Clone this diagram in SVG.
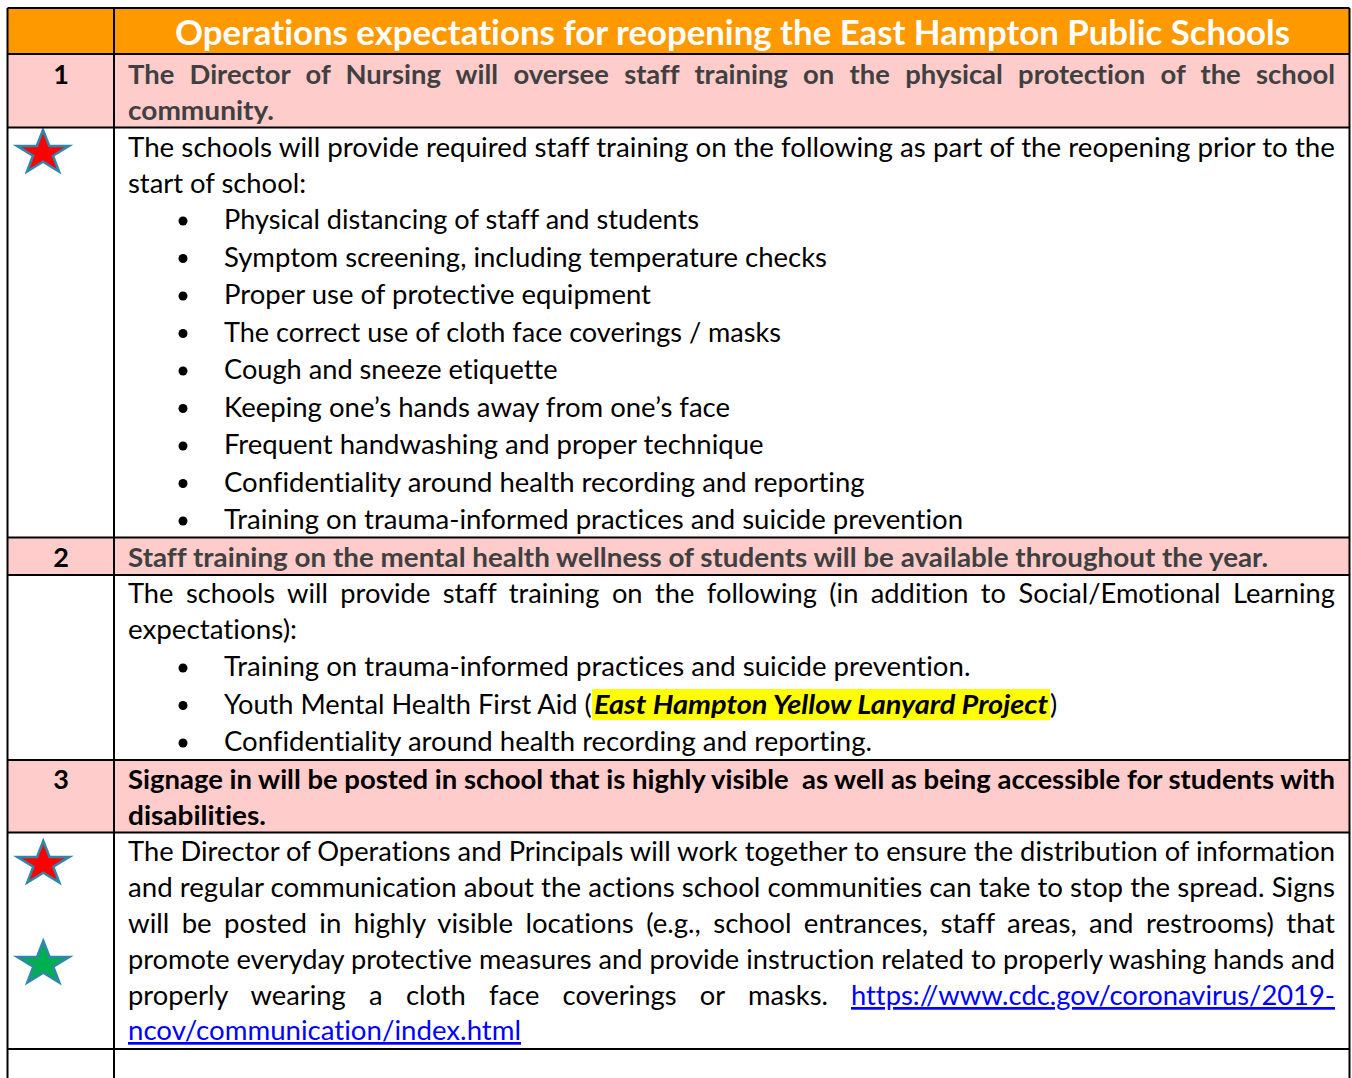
<svg xmlns="http://www.w3.org/2000/svg" xmlns:xlink="http://www.w3.org/1999/xlink" width="1352" height="1078" viewBox="0 0 1352 1078">
<style>
.t{font-family:Lato,"Open Sans","Liberation Sans",sans-serif;font-size:27px;fill:#000;font-variant-ligatures:none;font-feature-settings:"liga" 0,"clig" 0}
.b{font-weight:700}
.hd{fill:#404040}
.title{font-size:34.4px;font-weight:700;fill:#fff}
.link{fill:#0000FF;text-decoration:underline}
.grid{stroke:#000;stroke-width:2;fill:none}
.bul{fill:#000}
.orange{fill:#FF9900}
.pink{fill:#FFCCCC}
.star{stroke:#2F87AA;stroke-width:2.5;stroke-linejoin:miter}
</style>
<defs>
<path id="star" d="M0,-23 L6.25,-7.1 L26,-7.1 L10,2.8 L16,18.6 L0,8.8 L-16,18.6 L-10,2.8 L-26,-7.1 L-6.25,-7.1 Z"/>
</defs>
<rect width="1352" height="1078" fill="#fff"/>

<g id="title-row">
<rect class="orange" x="7.5" y="8" width="1342" height="46"/>
<text class="t title" x="732.5" y="45" text-anchor="middle" textLength="1115" lengthAdjust="spacingAndGlyphs">Operations expectations for reopening the East Hampton Public Schools</text>
</g>

<g id="row1-header">
<rect class="pink" x="7.5" y="54" width="1342" height="73.5"/>
<text class="t b" x="61" y="84" text-anchor="middle">1</text>
<text class="t b hd" x="128" y="84" word-spacing="8.5" textLength="1207" lengthAdjust="spacingAndGlyphs">The Director of Nursing will oversee staff training on the physical protection of the school</text>
<text class="t b hd" x="128" y="120" textLength="146" lengthAdjust="spacingAndGlyphs">community.</text>
</g>

<g id="row1-body">
<use href="#star" xlink:href="#star" class="star" fill="#FF0000" transform="translate(43,153)"/>
<text class="t" x="128" y="157" textLength="1207" lengthAdjust="spacingAndGlyphs">The schools will provide required staff training on the following as part of the reopening prior to the</text>
<text class="t" x="128" y="193" textLength="178" lengthAdjust="spacingAndGlyphs">start of school:</text>
<circle class="bul" cx="183" cy="221" r="4.5"/>
<text class="t" x="224" y="229" textLength="475" lengthAdjust="spacingAndGlyphs">Physical distancing of staff and students</text>
<circle class="bul" cx="183" cy="258.5" r="4.5"/>
<text class="t" x="224" y="266.5" textLength="603" lengthAdjust="spacingAndGlyphs">Symptom screening, including temperature checks</text>
<circle class="bul" cx="183" cy="296" r="4.5"/>
<text class="t" x="224" y="304" textLength="427" lengthAdjust="spacingAndGlyphs">Proper use of protective equipment</text>
<circle class="bul" cx="183" cy="333.5" r="4.5"/>
<text class="t" x="224" y="341.5" textLength="557" lengthAdjust="spacingAndGlyphs">The correct use of cloth face coverings / masks</text>
<circle class="bul" cx="183" cy="371" r="4.5"/>
<text class="t" x="224" y="379" textLength="333.5" lengthAdjust="spacingAndGlyphs">Cough and sneeze etiquette</text>
<circle class="bul" cx="183" cy="408.5" r="4.5"/>
<text class="t" x="224" y="416.5" textLength="506" lengthAdjust="spacingAndGlyphs">Keeping one’s hands away from one’s face</text>
<circle class="bul" cx="183" cy="446" r="4.5"/>
<text class="t" x="224" y="454" textLength="539.5" lengthAdjust="spacingAndGlyphs">Frequent handwashing and proper technique</text>
<circle class="bul" cx="183" cy="483.5" r="4.5"/>
<text class="t" x="224" y="491.5" textLength="640.6" lengthAdjust="spacingAndGlyphs">Confidentiality around health recording and reporting</text>
<circle class="bul" cx="183" cy="521" r="4.5"/>
<text class="t" x="224" y="529" textLength="739" lengthAdjust="spacingAndGlyphs">Training on trauma-informed practices and suicide prevention</text>
</g>

<g id="row2-header">
<rect class="pink" x="7.5" y="537.5" width="1342" height="37.5"/>
<text class="t b" x="61" y="567" text-anchor="middle">2</text>
<text class="t b hd" x="128" y="567" textLength="1140" lengthAdjust="spacingAndGlyphs">Staff training on the mental health wellness of students will be available throughout the year.</text>
</g>

<g id="row2-body">
<text class="t" x="128" y="603" word-spacing="5.4" textLength="1207" lengthAdjust="spacingAndGlyphs">The schools will provide staff training on the following (in addition to Social/Emotional Learning</text>
<text class="t" x="128" y="639" textLength="169" lengthAdjust="spacingAndGlyphs">expectations):</text>
<circle class="bul" cx="183" cy="668" r="4.5"/>
<text class="t" x="224" y="676" textLength="746.4" lengthAdjust="spacingAndGlyphs">Training on trauma-informed practices and suicide prevention.</text>
<circle class="bul" cx="183" cy="705.5" r="4.5"/>
<text class="t" x="224" y="713.5" textLength="367.7" lengthAdjust="spacingAndGlyphs">Youth Mental Health First Aid (</text>
<rect x="592" y="689" width="458" height="31" fill="#FFFF00"/>
<text class="t b" x="594" y="713.5" font-style="italic" textLength="454" lengthAdjust="spacingAndGlyphs">East Hampton Yellow Lanyard Project</text>
<text class="t" x="1050" y="713.5">)</text>
<circle class="bul" cx="183" cy="743" r="4.5"/>
<text class="t" x="224" y="751" textLength="648" lengthAdjust="spacingAndGlyphs">Confidentiality around health recording and reporting.</text>
</g>

<g id="row3-header">
<rect class="pink" x="7.5" y="760" width="1342" height="72.5"/>
<text class="t b" x="61" y="789" text-anchor="middle">3</text>
<text class="t b" x="128" y="789" xml:space="preserve" style="white-space:pre" textLength="1207" lengthAdjust="spacingAndGlyphs">Signage in will be posted in school that is highly visible  as well as being accessible for students with</text>
<text class="t b" x="128" y="825" textLength="138" lengthAdjust="spacingAndGlyphs">disabilities.</text>
</g>

<g id="row3-body">
<use href="#star" xlink:href="#star" class="star" fill="#FF0000" transform="translate(43.3,864)"/>
<use href="#star" xlink:href="#star" class="star" fill="#00B050" transform="translate(43.3,964)"/>
<text class="t" x="128" y="861" textLength="1207" lengthAdjust="spacingAndGlyphs">The Director of Operations and Principals will work together to ensure the distribution of information</text>
<text class="t" x="128" y="897" textLength="1207" lengthAdjust="spacingAndGlyphs">and regular communication about the actions school communities can take to stop the spread. Signs</text>
<text class="t" x="128" y="933" word-spacing="5.2" textLength="1207" lengthAdjust="spacingAndGlyphs">will be posted in highly visible locations (e.g., school entrances, staff areas, and restrooms) that</text>
<text class="t" x="128" y="969" textLength="1207" lengthAdjust="spacingAndGlyphs">promote everyday protective measures and provide instruction related to properly washing hands and</text>
<text class="t" x="128" y="1005" word-spacing="16.1" textLength="700" lengthAdjust="spacingAndGlyphs">properly wearing a cloth face coverings or masks.</text>
<text class="t link" x="851" y="1005" textLength="484" lengthAdjust="spacingAndGlyphs">https://www.cdc.gov/coronavirus/2019-</text>
<text class="t link" x="128" y="1040" textLength="393" lengthAdjust="spacingAndGlyphs">ncov/communication/index.html</text>
</g>

<g id="row4-empty"></g>

<g id="grid">
<path class="grid" d="M7.5 8 H1349.5 M7.5 54 H1349.5 M7.5 127.5 H1349.5 M7.5 537.5 H1349.5 M7.5 575 H1349.5 M7.5 760 H1349.5 M7.5 832.5 H1349.5 M7.5 1049 H1349.5 M7.5 8 V1078 M114 8 V1078 M1349.5 8 V1078"/>
</g>
</svg>
